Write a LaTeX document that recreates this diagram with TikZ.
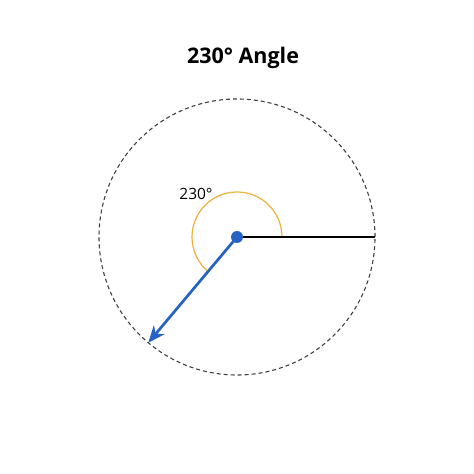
\documentclass[tikz,border=0pt]{standalone}
\usepackage{fontspec}
\setmainfont{Open Sans}
\usetikzlibrary{arrows.meta}
\definecolor{angblue}{RGB}{38,98,196}
\definecolor{angorange}{RGB}{236,178,60}
\tikzset{
  ray/.style={line width=2.7pt},
  dot/.style={circle,fill=angblue,inner sep=0pt,minimum size=12pt},
}
\begin{document}
\begin{tikzpicture}[x=1pt, y=1pt]%
      \useasboundingbox (0,0) rectangle (474,474);%
      \fill[white] (0,0) rectangle (474,474);
      \node[font=\bfseries\fontsize{21.5}{24}\selectfont] (title) at (243,416) {230° Angle};
      \coordinate (O) at (237,237);
      \draw[dash pattern=on 4pt off 3pt, line width=1.1pt, black!75] (O) circle (138);
      \draw[angorange, line width=1.2pt] ([shift={(0:45)}]O) arc (0:230:45);
      \coordinate (E) at ([shift={(0:138)}]O);
      \coordinate (P) at ([shift={(230:138)}]O);
      \draw[ray, black] (O) -- (E);
      \draw[ray, angblue, -{Stealth[length=17pt,width=14pt]}] (O) -- (P);
      \node[dot] (C) at (O) {};
      \node[font=\fontsize{15.5}{18}\selectfont] (lbl) at (196,280) {230°};
    \end{tikzpicture}
\end{document}
